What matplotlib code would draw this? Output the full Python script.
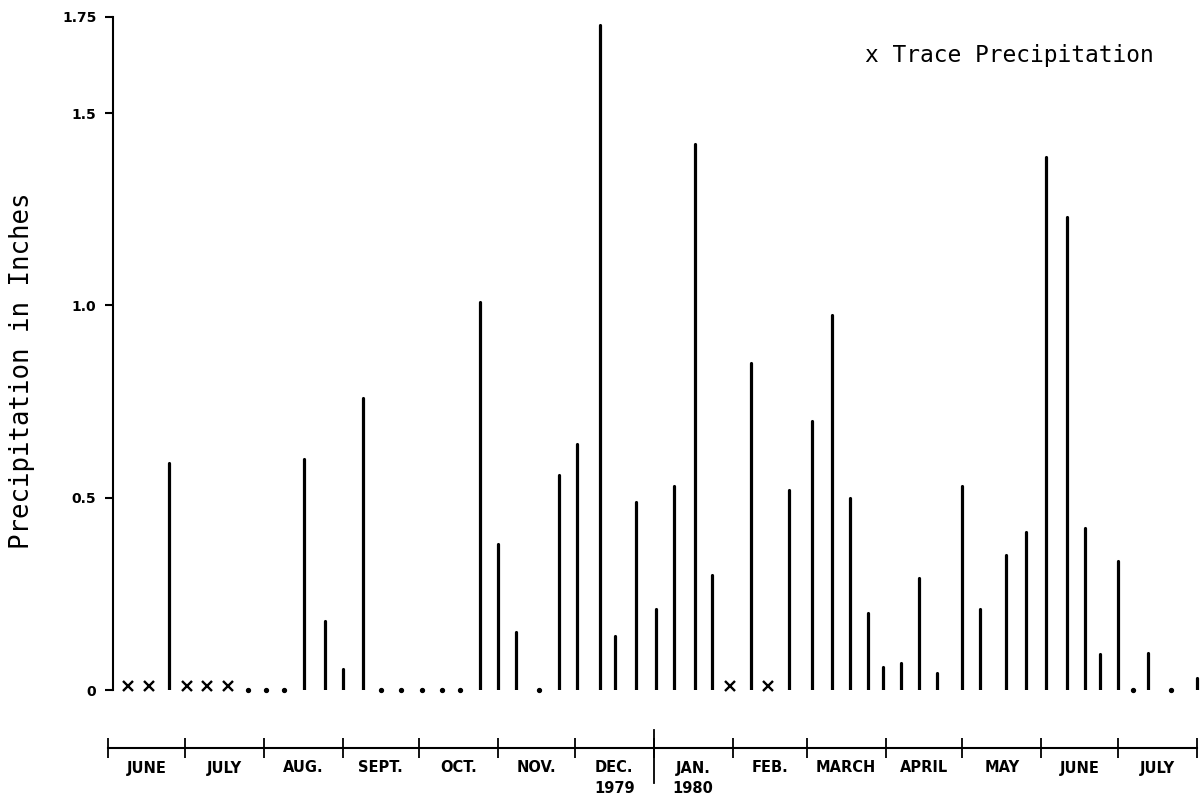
import matplotlib.pyplot as plt

# days counted from 1 June 1979
rain_days = [24, 77, 85, 92, 100, 146, 153, 160, 177, 184, 193, 199, 207, 215,
             222, 230, 237, 252, 267, 276, 284, 291, 298, 304, 311, 318, 325,
             335, 342, 352, 360, 368, 376, 383, 389, 396, 408, 427]
rain_inches = [0.59, 0.60, 0.18, 0.055, 0.76, 1.01, 0.38, 0.15, 0.56, 0.64, 1.73,
               0.14, 0.49, 0.21, 0.53, 1.42, 0.30, 0.85, 0.52, 0.70, 0.975, 0.50,
               0.20, 0.06, 0.07, 0.29, 0.045, 0.53, 0.21, 0.35, 0.41, 1.385,
               1.23, 0.42, 0.094, 0.335, 0.095, 0.03]
trace_days = [8, 16, 31, 39, 47, 244, 259]
dry_days = [55, 62, 69, 107, 115, 123, 131, 138, 169, 402, 417]

month_starts = [0, 30, 61, 92, 122, 153, 183, 214, 245, 274, 305, 335, 366, 396, 427]
month_names = ["JUNE", "JULY", "AUG.", "SEPT.", "OCT.", "NOV.", "DEC.\n1979",
               "JAN.\n1980", "FEB.", "MARCH", "APRIL", "MAY", "JUNE", "JULY"]
year_start = 214  # 1 Jan 1980

y_ticks = [0, 0.5, 1.0, 1.5, 1.75]
y_ticklabels = ["0", "0.5", "1.0", "1.5", "1.75"]

W, H = 1202, 802
px_per_day = 2.55

fig = plt.figure(figsize=(W / 100, H / 100), dpi=100)

# main plot
ax = fig.add_axes([108 / W, 112 / H, 1094 / W, 673 / H])
ax.vlines(rain_days, 0, rain_inches, color="black", lw=2.3, capstyle="round")
ax.plot(trace_days, [0.01] * len(trace_days), "x", color="black", ms=6.5, mew=1.7,
        clip_on=False)
ax.plot(dry_days, [0] * len(dry_days), "o", color="black", ms=2.8, clip_on=False)

ax.set_xlim(0, 1094 / px_per_day)
ax.set_ylim(0, 1.75)
for s in ["top", "right", "bottom"]:
    ax.spines[s].set_visible(False)
ax.spines["left"].set_position(("data", 2))
ax.spines["left"].set_linewidth(1.5)
ax.set_xticks([])
ax.set_yticks(y_ticks, y_ticklabels)
ax.tick_params(axis="y", direction="out", length=6, width=1.5, pad=6, labelsize=10)
for t in ax.get_yticklabels():
    t.set_fontweight("bold")

ax.set_ylabel("Precipitation in Inches", fontsize=18.5, family="DejaVu Sans Mono")
ax.yaxis.set_label_coords((22 - 108) / 1094, (690 - 371) / 673)
ax.yaxis.label.set_verticalalignment("center")

fig.text(865 / W, (H - 62) / H, "x Trace Precipitation", fontsize=16.5,
         family="DejaVu Sans Mono", va="baseline")

# month timeline under the plot
tl = fig.add_axes([108 / W, 54 / H, 1094 / W, 18 / H])
tl.patch.set_visible(False)
tl.set_xlim(0, 1094 / px_per_day)
tl.set_ylim(0, 1)
for s in ["top", "right", "left"]:
    tl.spines[s].set_visible(False)
tl.spines["bottom"].set_bounds(month_starts[0], month_starts[-1])
tl.spines["bottom"].set_linewidth(1.5)
tl.set_yticks([])
tl.set_xticks(month_starts, [""] * len(month_starts))
mids = [(a + b) / 2 for a, b in zip(month_starts[:-1], month_starts[1:])]
tl.set_xticks(mids, month_names, minor=True)
tl.tick_params(axis="x", which="major", direction="inout", length=14, width=1.3)
tl.tick_params(axis="x", which="minor", length=0, pad=9, labelsize=10.5)
for t in tl.get_xticklabels(minor=True):
    t.set_fontweight("bold")
    t.set_linespacing(1.45)
tl.plot([year_start, year_start], [1.0, -1.95], color="black", lw=1.3, clip_on=False)

fig.savefig("out.png", dpi=100)
